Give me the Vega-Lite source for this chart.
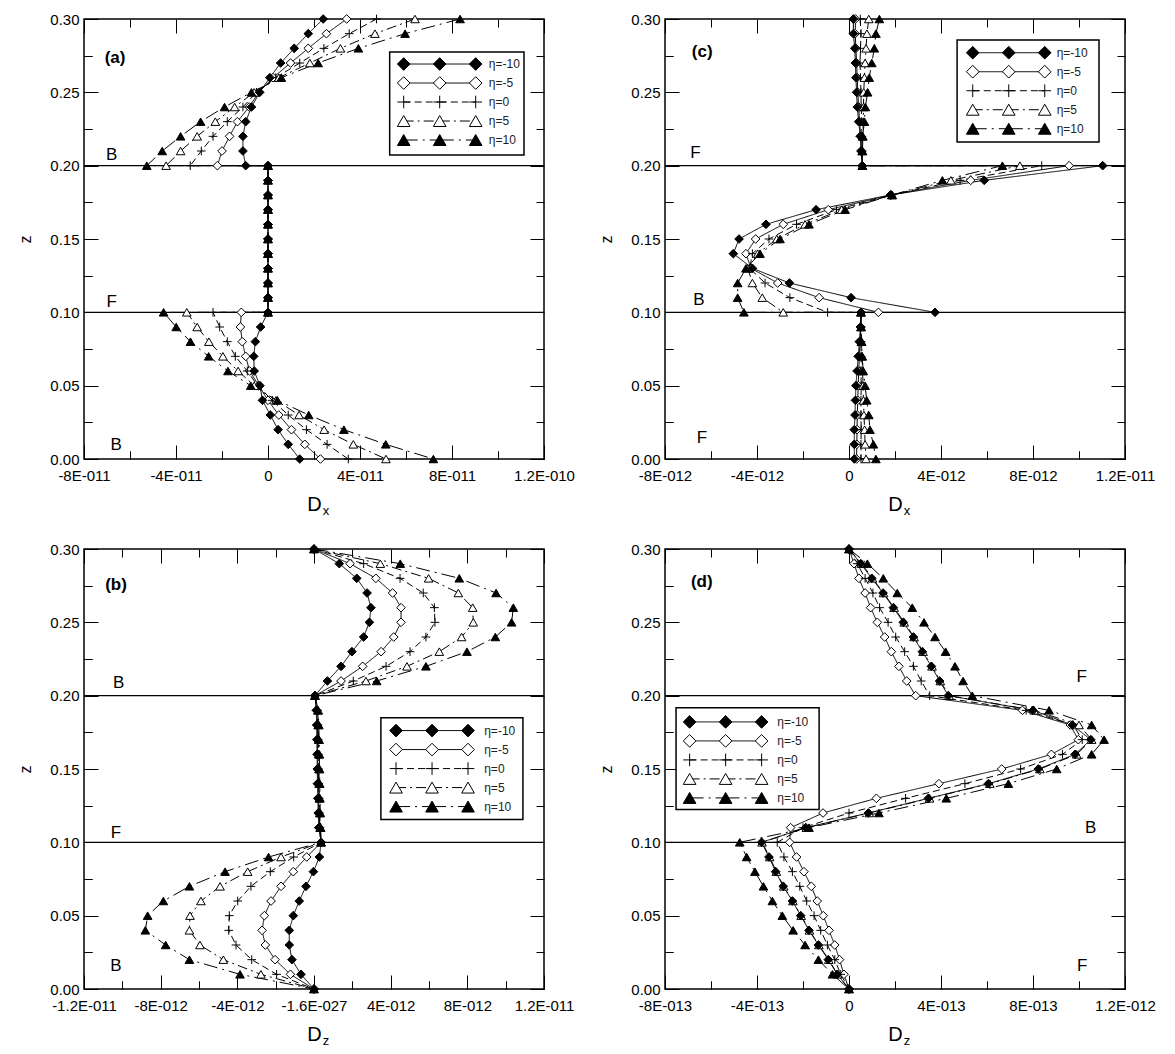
{
"$schema":"https://vega.github.io/schema/vega-lite/v6.json",
"padding":{"left":17,"top":11,"right":5,"bottom":5},
"bounds":"flush",
"columns":2,
"spacing":{"row":90,"column":121},
"resolve":{"scale":{"x":"independent","y":"independent","shape":"independent","fill":"independent","strokeDash":"independent"}},
"config":{
 "font":"Liberation Sans",
 "view":{"stroke":"black","strokeWidth":1.5},
 "axis":{"domain":false,"ticks":true,"tickSize":-8,"tickColor":"black","tickWidth":1,"grid":true,"gridColor":"black","gridWidth":1,"gridOpacity":1,"labelColor":"black","titleColor":"black","labelFont":"Liberation Sans","titleFont":"Liberation Sans","titleFontWeight":"normal","labelFontSize":15,"labelFlush":false,"labelOverlap":false,"labelBound":false},
 "text":{"font":"Liberation Sans","color":"black"}
},
"datasets":{
"a":[
{"s":"η=-5","k":0,"z":0.3,"d":3.42e-11},{"s":"η=-5","k":1,"z":0.29,"d":2.54e-11},{"s":"η=-5","k":2,"z":0.28,"d":1.75e-11},{"s":"η=-5","k":3,"z":0.27,"d":0.98e-11},{"s":"η=-5","k":4,"z":0.26,"d":0.22e-11},{"s":"η=-5","k":5,"z":0.25,"d":-0.40e-11},{"s":"η=-5","k":6,"z":0.24,"d":-0.82e-11},{"s":"η=-5","k":7,"z":0.23,"d":-1.33e-11},{"s":"η=-5","k":8,"z":0.22,"d":-1.67e-11},{"s":"η=-5","k":9,"z":0.21,"d":-2.00e-11},{"s":"η=-5","k":10,"z":0.2,"d":-2.20e-11},
{"s":"η=-5","k":11,"z":0.2,"d":0},{"s":"η=-5","k":12,"z":0.19,"d":0},{"s":"η=-5","k":13,"z":0.18,"d":0},{"s":"η=-5","k":14,"z":0.17,"d":0},{"s":"η=-5","k":15,"z":0.16,"d":0},{"s":"η=-5","k":16,"z":0.15,"d":0},{"s":"η=-5","k":17,"z":0.14,"d":0},{"s":"η=-5","k":18,"z":0.13,"d":0},{"s":"η=-5","k":19,"z":0.12,"d":0},{"s":"η=-5","k":20,"z":0.11,"d":0},{"s":"η=-5","k":21,"z":0.1,"d":0},
{"s":"η=-5","k":22,"z":0.1,"d":-1.16e-11},{"s":"η=-5","k":23,"z":0.09,"d":-1.20e-11},{"s":"η=-5","k":24,"z":0.08,"d":-1.12e-11},{"s":"η=-5","k":25,"z":0.07,"d":-0.97e-11},{"s":"η=-5","k":26,"z":0.06,"d":-0.80e-11},{"s":"η=-5","k":27,"z":0.05,"d":-0.40e-11},{"s":"η=-5","k":28,"z":0.04,"d":0},{"s":"η=-5","k":29,"z":0.03,"d":0.47e-11},{"s":"η=-5","k":30,"z":0.02,"d":1.02e-11},{"s":"η=-5","k":31,"z":0.01,"d":1.60e-11},{"s":"η=-5","k":32,"z":0,"d":2.28e-11},
{"s":"η=0","k":0,"z":0.3,"d":4.72e-11},{"s":"η=0","k":1,"z":0.29,"d":3.53e-11},{"s":"η=0","k":2,"z":0.28,"d":2.43e-11},{"s":"η=0","k":3,"z":0.27,"d":1.38e-11},{"s":"η=0","k":4,"z":0.26,"d":0.34e-11},{"s":"η=0","k":5,"z":0.25,"d":-0.50e-11},{"s":"η=0","k":6,"z":0.24,"d":-1.09e-11},{"s":"η=0","k":7,"z":0.23,"d":-1.77e-11},{"s":"η=0","k":8,"z":0.22,"d":-2.39e-11},{"s":"η=0","k":9,"z":0.21,"d":-2.90e-11},{"s":"η=0","k":10,"z":0.2,"d":-3.38e-11},
{"s":"η=0","k":11,"z":0.2,"d":0},{"s":"η=0","k":12,"z":0.19,"d":0},{"s":"η=0","k":13,"z":0.18,"d":0},{"s":"η=0","k":14,"z":0.17,"d":0},{"s":"η=0","k":15,"z":0.16,"d":0},{"s":"η=0","k":16,"z":0.15,"d":0},{"s":"η=0","k":17,"z":0.14,"d":0},{"s":"η=0","k":18,"z":0.13,"d":0},{"s":"η=0","k":19,"z":0.12,"d":0},{"s":"η=0","k":20,"z":0.11,"d":0},{"s":"η=0","k":21,"z":0.1,"d":0},
{"s":"η=0","k":22,"z":0.1,"d":-2.39e-11},{"s":"η=0","k":23,"z":0.09,"d":-2.10e-11},{"s":"η=0","k":24,"z":0.08,"d":-1.77e-11},{"s":"η=0","k":25,"z":0.07,"d":-1.42e-11},{"s":"η=0","k":26,"z":0.06,"d":-0.90e-11},{"s":"η=0","k":27,"z":0.05,"d":-0.45e-11},{"s":"η=0","k":28,"z":0.04,"d":0.19e-11},{"s":"η=0","k":29,"z":0.03,"d":0.88e-11},{"s":"η=0","k":30,"z":0.02,"d":1.67e-11},{"s":"η=0","k":31,"z":0.01,"d":2.57e-11},{"s":"η=0","k":32,"z":0,"d":3.49e-11},
{"s":"η=5","k":0,"z":0.3,"d":6.39e-11},{"s":"η=5","k":1,"z":0.29,"d":4.65e-11},{"s":"η=5","k":2,"z":0.28,"d":3.15e-11},{"s":"η=5","k":3,"z":0.27,"d":1.82e-11},{"s":"η=5","k":4,"z":0.26,"d":0.47e-11},{"s":"η=5","k":5,"z":0.25,"d":-0.60e-11},{"s":"η=5","k":6,"z":0.24,"d":-1.45e-11},{"s":"η=5","k":7,"z":0.23,"d":-2.29e-11},{"s":"η=5","k":8,"z":0.22,"d":-3.08e-11},{"s":"η=5","k":9,"z":0.21,"d":-3.80e-11},{"s":"η=5","k":10,"z":0.2,"d":-4.43e-11},
{"s":"η=5","k":11,"z":0.2,"d":0},{"s":"η=5","k":12,"z":0.19,"d":0},{"s":"η=5","k":13,"z":0.18,"d":0},{"s":"η=5","k":14,"z":0.17,"d":0},{"s":"η=5","k":15,"z":0.16,"d":0},{"s":"η=5","k":16,"z":0.15,"d":0},{"s":"η=5","k":17,"z":0.14,"d":0},{"s":"η=5","k":18,"z":0.13,"d":0},{"s":"η=5","k":19,"z":0.12,"d":0},{"s":"η=5","k":20,"z":0.11,"d":0},{"s":"η=5","k":21,"z":0.1,"d":0},
{"s":"η=5","k":22,"z":0.1,"d":-3.53e-11},{"s":"η=5","k":23,"z":0.09,"d":-3.08e-11},{"s":"η=5","k":24,"z":0.08,"d":-2.57e-11},{"s":"η=5","k":25,"z":0.07,"d":-1.96e-11},{"s":"η=5","k":26,"z":0.06,"d":-1.30e-11},{"s":"η=5","k":27,"z":0.05,"d":-0.60e-11},{"s":"η=5","k":28,"z":0.04,"d":0.35e-11},{"s":"η=5","k":29,"z":0.03,"d":1.35e-11},{"s":"η=5","k":30,"z":0.02,"d":2.44e-11},{"s":"η=5","k":31,"z":0.01,"d":3.71e-11},{"s":"η=5","k":32,"z":0,"d":5.13e-11},
{"s":"η=-10","k":0,"z":0.3,"d":2.40e-11},{"s":"η=-10","k":1,"z":0.29,"d":1.75e-11},{"s":"η=-10","k":2,"z":0.28,"d":1.14e-11},{"s":"η=-10","k":3,"z":0.27,"d":0.55e-11},{"s":"η=-10","k":4,"z":0.26,"d":0.08e-11},{"s":"η=-10","k":5,"z":0.25,"d":-0.36e-11},{"s":"η=-10","k":6,"z":0.24,"d":-0.72e-11},{"s":"η=-10","k":7,"z":0.23,"d":-0.97e-11},{"s":"η=-10","k":8,"z":0.22,"d":-1.09e-11},{"s":"η=-10","k":9,"z":0.21,"d":-1.09e-11},{"s":"η=-10","k":10,"z":0.2,"d":-0.97e-11},
{"s":"η=-10","k":11,"z":0.2,"d":0},{"s":"η=-10","k":12,"z":0.19,"d":0},{"s":"η=-10","k":13,"z":0.18,"d":0},{"s":"η=-10","k":14,"z":0.17,"d":0},{"s":"η=-10","k":15,"z":0.16,"d":0},{"s":"η=-10","k":16,"z":0.15,"d":0},{"s":"η=-10","k":17,"z":0.14,"d":0},{"s":"η=-10","k":18,"z":0.13,"d":0},{"s":"η=-10","k":19,"z":0.12,"d":0},{"s":"η=-10","k":20,"z":0.11,"d":0},{"s":"η=-10","k":21,"z":0.1,"d":0},
{"s":"η=-10","k":22,"z":0.1,"d":0},{"s":"η=-10","k":23,"z":0.09,"d":-0.32e-11},{"s":"η=-10","k":24,"z":0.08,"d":-0.55e-11},{"s":"η=-10","k":25,"z":0.07,"d":-0.62e-11},{"s":"η=-10","k":26,"z":0.06,"d":-0.60e-11},{"s":"η=-10","k":27,"z":0.05,"d":-0.35e-11},{"s":"η=-10","k":28,"z":0.04,"d":-0.24e-11},{"s":"η=-10","k":29,"z":0.03,"d":0.10e-11},{"s":"η=-10","k":30,"z":0.02,"d":0.44e-11},{"s":"η=-10","k":31,"z":0.01,"d":0.88e-11},{"s":"η=-10","k":32,"z":0,"d":1.38e-11},
{"s":"η=10","k":0,"z":0.3,"d":8.35e-11},{"s":"η=10","k":1,"z":0.29,"d":5.96e-11},{"s":"η=10","k":2,"z":0.28,"d":3.93e-11},{"s":"η=10","k":3,"z":0.27,"d":2.18e-11},{"s":"η=10","k":4,"z":0.26,"d":0.58e-11},{"s":"η=10","k":5,"z":0.25,"d":-0.72e-11},{"s":"η=10","k":6,"z":0.24,"d":-1.89e-11},{"s":"η=10","k":7,"z":0.23,"d":-2.93e-11},{"s":"η=10","k":8,"z":0.22,"d":-3.80e-11},{"s":"η=10","k":9,"z":0.21,"d":-4.60e-11},{"s":"η=10","k":10,"z":0.2,"d":-5.27e-11},
{"s":"η=10","k":11,"z":0.2,"d":0},{"s":"η=10","k":12,"z":0.19,"d":0},{"s":"η=10","k":13,"z":0.18,"d":0},{"s":"η=10","k":14,"z":0.17,"d":0},{"s":"η=10","k":15,"z":0.16,"d":0},{"s":"η=10","k":16,"z":0.15,"d":0},{"s":"η=10","k":17,"z":0.14,"d":0},{"s":"η=10","k":18,"z":0.13,"d":0},{"s":"η=10","k":19,"z":0.12,"d":0},{"s":"η=10","k":20,"z":0.11,"d":0},{"s":"η=10","k":21,"z":0.1,"d":0},
{"s":"η=10","k":22,"z":0.1,"d":-4.54e-11},{"s":"η=10","k":23,"z":0.09,"d":-3.99e-11},{"s":"η=10","k":24,"z":0.08,"d":-3.37e-11},{"s":"η=10","k":25,"z":0.07,"d":-2.58e-11},{"s":"η=10","k":26,"z":0.06,"d":-1.74e-11},{"s":"η=10","k":27,"z":0.05,"d":-0.75e-11},{"s":"η=10","k":28,"z":0.04,"d":0.41e-11},{"s":"η=10","k":29,"z":0.03,"d":1.77e-11},{"s":"η=10","k":30,"z":0.02,"d":3.30e-11},{"s":"η=10","k":31,"z":0.01,"d":5.12e-11},{"s":"η=10","k":32,"z":0,"d":7.19e-11}
],
"b":[
{"s":"η=-5","k":0,"z":0.3,"d":0},{"s":"η=-5","k":1,"z":0.29,"d":1.88e-12},{"s":"η=-5","k":2,"z":0.28,"d":3.23e-12},{"s":"η=-5","k":3,"z":0.27,"d":4.10e-12},{"s":"η=-5","k":4,"z":0.26,"d":4.54e-12},{"s":"η=-5","k":5,"z":0.25,"d":4.54e-12},{"s":"η=-5","k":6,"z":0.24,"d":4.16e-12},{"s":"η=-5","k":7,"z":0.23,"d":3.50e-12},{"s":"η=-5","k":8,"z":0.22,"d":2.54e-12},{"s":"η=-5","k":9,"z":0.21,"d":1.41e-12},{"s":"η=-5","k":10,"z":0.2,"d":0.05e-12},
{"s":"η=-5","k":11,"z":0.19,"d":0.15e-12},{"s":"η=-5","k":12,"z":0.18,"d":0.17e-12},{"s":"η=-5","k":13,"z":0.17,"d":0.18e-12},{"s":"η=-5","k":14,"z":0.16,"d":0.19e-12},{"s":"η=-5","k":15,"z":0.15,"d":0.20e-12},{"s":"η=-5","k":16,"z":0.14,"d":0.21e-12},{"s":"η=-5","k":17,"z":0.13,"d":0.23e-12},{"s":"η=-5","k":18,"z":0.12,"d":0.25e-12},{"s":"η=-5","k":19,"z":0.11,"d":0.28e-12},{"s":"η=-5","k":20,"z":0.1,"d":0.37e-12},
{"s":"η=-5","k":21,"z":0.09,"d":-0.38e-12},{"s":"η=-5","k":22,"z":0.08,"d":-1.08e-12},{"s":"η=-5","k":23,"z":0.07,"d":-1.72e-12},{"s":"η=-5","k":24,"z":0.06,"d":-2.24e-12},{"s":"η=-5","k":25,"z":0.05,"d":-2.59e-12},{"s":"η=-5","k":26,"z":0.04,"d":-2.71e-12},{"s":"η=-5","k":27,"z":0.03,"d":-2.54e-12},{"s":"η=-5","k":28,"z":0.02,"d":-2.03e-12},{"s":"η=-5","k":29,"z":0.01,"d":-1.23e-12},{"s":"η=-5","k":30,"z":0,"d":0},
{"s":"η=0","k":0,"z":0.3,"d":0},{"s":"η=0","k":1,"z":0.29,"d":2.59e-12},{"s":"η=0","k":2,"z":0.28,"d":4.49e-12},{"s":"η=0","k":3,"z":0.27,"d":5.70e-12},{"s":"η=0","k":4,"z":0.26,"d":6.28e-12},{"s":"η=0","k":5,"z":0.25,"d":6.31e-12},{"s":"η=0","k":6,"z":0.24,"d":5.84e-12},{"s":"η=0","k":7,"z":0.23,"d":5.01e-12},{"s":"η=0","k":8,"z":0.22,"d":3.76e-12},{"s":"η=0","k":9,"z":0.21,"d":2.05e-12},{"s":"η=0","k":10,"z":0.2,"d":0.05e-12},
{"s":"η=0","k":11,"z":0.19,"d":0.18e-12},{"s":"η=0","k":12,"z":0.18,"d":0.20e-12},{"s":"η=0","k":13,"z":0.17,"d":0.21e-12},{"s":"η=0","k":14,"z":0.16,"d":0.22e-12},{"s":"η=0","k":15,"z":0.15,"d":0.23e-12},{"s":"η=0","k":16,"z":0.14,"d":0.24e-12},{"s":"η=0","k":17,"z":0.13,"d":0.26e-12},{"s":"η=0","k":18,"z":0.12,"d":0.28e-12},{"s":"η=0","k":19,"z":0.11,"d":0.30e-12},{"s":"η=0","k":20,"z":0.1,"d":0.37e-12},
{"s":"η=0","k":21,"z":0.09,"d":-1.06e-12},{"s":"η=0","k":22,"z":0.08,"d":-2.28e-12},{"s":"η=0","k":23,"z":0.07,"d":-3.29e-12},{"s":"η=0","k":24,"z":0.06,"d":-3.98e-12},{"s":"η=0","k":25,"z":0.05,"d":-4.42e-12},{"s":"η=0","k":26,"z":0.04,"d":-4.45e-12},{"s":"η=0","k":27,"z":0.03,"d":-4.07e-12},{"s":"η=0","k":28,"z":0.02,"d":-3.25e-12},{"s":"η=0","k":29,"z":0.01,"d":-1.95e-12},{"s":"η=0","k":30,"z":0,"d":0},
{"s":"η=5","k":0,"z":0.3,"d":0},{"s":"η=5","k":1,"z":0.29,"d":3.46e-12},{"s":"η=5","k":2,"z":0.28,"d":5.98e-12},{"s":"η=5","k":3,"z":0.27,"d":7.53e-12},{"s":"η=5","k":4,"z":0.26,"d":8.28e-12},{"s":"η=5","k":5,"z":0.25,"d":8.31e-12},{"s":"η=5","k":6,"z":0.24,"d":7.70e-12},{"s":"η=5","k":7,"z":0.23,"d":6.54e-12},{"s":"η=5","k":8,"z":0.22,"d":4.85e-12},{"s":"η=5","k":9,"z":0.21,"d":2.71e-12},{"s":"η=5","k":10,"z":0.2,"d":0.05e-12},
{"s":"η=5","k":11,"z":0.19,"d":0.20e-12},{"s":"η=5","k":12,"z":0.18,"d":0.22e-12},{"s":"η=5","k":13,"z":0.17,"d":0.24e-12},{"s":"η=5","k":14,"z":0.16,"d":0.25e-12},{"s":"η=5","k":15,"z":0.15,"d":0.26e-12},{"s":"η=5","k":16,"z":0.14,"d":0.27e-12},{"s":"η=5","k":17,"z":0.13,"d":0.28e-12},{"s":"η=5","k":18,"z":0.12,"d":0.30e-12},{"s":"η=5","k":19,"z":0.11,"d":0.32e-12},{"s":"η=5","k":20,"z":0.1,"d":0.37e-12},
{"s":"η=5","k":21,"z":0.09,"d":-1.72e-12},{"s":"η=5","k":22,"z":0.08,"d":-3.46e-12},{"s":"η=5","k":23,"z":0.07,"d":-4.90e-12},{"s":"η=5","k":24,"z":0.06,"d":-5.90e-12},{"s":"η=5","k":25,"z":0.05,"d":-6.47e-12},{"s":"η=5","k":26,"z":0.04,"d":-6.50e-12},{"s":"η=5","k":27,"z":0.03,"d":-5.95e-12},{"s":"η=5","k":28,"z":0.02,"d":-4.73e-12},{"s":"η=5","k":29,"z":0.01,"d":-2.77e-12},{"s":"η=5","k":30,"z":0,"d":0},
{"s":"η=-10","k":0,"z":0.3,"d":0},{"s":"η=-10","k":1,"z":0.29,"d":1.32e-12},{"s":"η=-10","k":2,"z":0.28,"d":2.23e-12},{"s":"η=-10","k":3,"z":0.27,"d":2.77e-12},{"s":"η=-10","k":4,"z":0.26,"d":2.97e-12},{"s":"η=-10","k":5,"z":0.25,"d":2.89e-12},{"s":"η=-10","k":6,"z":0.24,"d":2.59e-12},{"s":"η=-10","k":7,"z":0.23,"d":1.98e-12},{"s":"η=-10","k":8,"z":0.22,"d":1.41e-12},{"s":"η=-10","k":9,"z":0.21,"d":0.70e-12},{"s":"η=-10","k":10,"z":0.2,"d":0.05e-12},
{"s":"η=-10","k":11,"z":0.19,"d":0.12e-12},{"s":"η=-10","k":12,"z":0.18,"d":0.14e-12},{"s":"η=-10","k":13,"z":0.17,"d":0.15e-12},{"s":"η=-10","k":14,"z":0.16,"d":0.16e-12},{"s":"η=-10","k":15,"z":0.15,"d":0.17e-12},{"s":"η=-10","k":16,"z":0.14,"d":0.18e-12},{"s":"η=-10","k":17,"z":0.13,"d":0.20e-12},{"s":"η=-10","k":18,"z":0.12,"d":0.22e-12},{"s":"η=-10","k":19,"z":0.11,"d":0.25e-12},{"s":"η=-10","k":20,"z":0.1,"d":0.37e-12},
{"s":"η=-10","k":21,"z":0.09,"d":0.28e-12},{"s":"η=-10","k":22,"z":0.08,"d":-0.03e-12},{"s":"η=-10","k":23,"z":0.07,"d":-0.42e-12},{"s":"η=-10","k":24,"z":0.06,"d":-0.77e-12},{"s":"η=-10","k":25,"z":0.05,"d":-1.08e-12},{"s":"η=-10","k":26,"z":0.04,"d":-1.29e-12},{"s":"η=-10","k":27,"z":0.03,"d":-1.29e-12},{"s":"η=-10","k":28,"z":0.02,"d":-1.15e-12},{"s":"η=-10","k":29,"z":0.01,"d":-0.68e-12},{"s":"η=-10","k":30,"z":0,"d":0},
{"s":"η=10","k":0,"z":0.3,"d":0},{"s":"η=10","k":1,"z":0.29,"d":4.50e-12},{"s":"η=10","k":2,"z":0.28,"d":7.58e-12},{"s":"η=10","k":3,"z":0.27,"d":9.50e-12},{"s":"η=10","k":4,"z":0.26,"d":10.40e-12},{"s":"η=10","k":5,"z":0.25,"d":10.31e-12},{"s":"η=10","k":6,"z":0.24,"d":9.46e-12},{"s":"η=10","k":7,"z":0.23,"d":7.98e-12},{"s":"η=10","k":8,"z":0.22,"d":5.84e-12},{"s":"η=10","k":9,"z":0.21,"d":3.27e-12},{"s":"η=10","k":10,"z":0.2,"d":0.05e-12},
{"s":"η=10","k":11,"z":0.19,"d":0.22e-12},{"s":"η=10","k":12,"z":0.18,"d":0.25e-12},{"s":"η=10","k":13,"z":0.17,"d":0.27e-12},{"s":"η=10","k":14,"z":0.16,"d":0.28e-12},{"s":"η=10","k":15,"z":0.15,"d":0.29e-12},{"s":"η=10","k":16,"z":0.14,"d":0.30e-12},{"s":"η=10","k":17,"z":0.13,"d":0.31e-12},{"s":"η=10","k":18,"z":0.12,"d":0.33e-12},{"s":"η=10","k":19,"z":0.11,"d":0.35e-12},{"s":"η=10","k":20,"z":0.1,"d":0.37e-12},
{"s":"η=10","k":21,"z":0.09,"d":-2.37e-12},{"s":"η=10","k":22,"z":0.08,"d":-4.64e-12},{"s":"η=10","k":23,"z":0.07,"d":-6.50e-12},{"s":"η=10","k":24,"z":0.06,"d":-7.86e-12},{"s":"η=10","k":25,"z":0.05,"d":-8.68e-12},{"s":"η=10","k":26,"z":0.04,"d":-8.80e-12},{"s":"η=10","k":27,"z":0.03,"d":-7.74e-12},{"s":"η=10","k":28,"z":0.02,"d":-6.50e-12},{"s":"η=10","k":29,"z":0.01,"d":-3.86e-12},{"s":"η=10","k":30,"z":0,"d":0}
],
"c":[
{"s":"η=-5","k":0,"z":0.3,"d":0.28e-12},{"s":"η=-5","k":1,"z":0.29,"d":0.27e-12},{"s":"η=-5","k":2,"z":0.28,"d":0.30e-12},{"s":"η=-5","k":3,"z":0.27,"d":0.33e-12},{"s":"η=-5","k":4,"z":0.26,"d":0.36e-12},{"s":"η=-5","k":5,"z":0.25,"d":0.38e-12},{"s":"η=-5","k":6,"z":0.24,"d":0.42e-12},{"s":"η=-5","k":7,"z":0.23,"d":0.46e-12},{"s":"η=-5","k":8,"z":0.22,"d":0.51e-12},{"s":"η=-5","k":9,"z":0.21,"d":0.54e-12},{"s":"η=-5","k":10,"z":0.2,"d":0.58e-12},
{"s":"η=-5","k":11,"z":0.2,"d":9.57e-12},{"s":"η=-5","k":12,"z":0.19,"d":5.29e-12},{"s":"η=-5","k":13,"z":0.18,"d":1.82e-12},{"s":"η=-5","k":14,"z":0.17,"d":-0.90e-12},{"s":"η=-5","k":15,"z":0.16,"d":-2.86e-12},{"s":"η=-5","k":16,"z":0.15,"d":-4.06e-12},{"s":"η=-5","k":17,"z":0.14,"d":-4.48e-12},{"s":"η=-5","k":18,"z":0.13,"d":-4.26e-12},{"s":"η=-5","k":19,"z":0.12,"d":-3.10e-12},{"s":"η=-5","k":20,"z":0.11,"d":-1.30e-12},{"s":"η=-5","k":21,"z":0.1,"d":1.28e-12},
{"s":"η=-5","k":22,"z":0.1,"d":0.52e-12},{"s":"η=-5","k":23,"z":0.09,"d":0.51e-12},{"s":"η=-5","k":24,"z":0.08,"d":0.48e-12},{"s":"η=-5","k":25,"z":0.07,"d":0.45e-12},{"s":"η=-5","k":26,"z":0.06,"d":0.42e-12},{"s":"η=-5","k":27,"z":0.05,"d":0.40e-12},{"s":"η=-5","k":28,"z":0.04,"d":0.38e-12},{"s":"η=-5","k":29,"z":0.03,"d":0.36e-12},{"s":"η=-5","k":30,"z":0.02,"d":0.35e-12},{"s":"η=-5","k":31,"z":0.01,"d":0.34e-12},{"s":"η=-5","k":32,"z":0,"d":0.33e-12},
{"s":"η=0","k":0,"z":0.3,"d":0.49e-12},{"s":"η=0","k":1,"z":0.29,"d":0.52e-12},{"s":"η=0","k":2,"z":0.28,"d":0.50e-12},{"s":"η=0","k":3,"z":0.27,"d":0.48e-12},{"s":"η=0","k":4,"z":0.26,"d":0.50e-12},{"s":"η=0","k":5,"z":0.25,"d":0.52e-12},{"s":"η=0","k":6,"z":0.24,"d":0.53e-12},{"s":"η=0","k":7,"z":0.23,"d":0.55e-12},{"s":"η=0","k":8,"z":0.22,"d":0.56e-12},{"s":"η=0","k":9,"z":0.21,"d":0.57e-12},{"s":"η=0","k":10,"z":0.2,"d":0.58e-12},
{"s":"η=0","k":11,"z":0.2,"d":8.38e-12},{"s":"η=0","k":12,"z":0.19,"d":4.83e-12},{"s":"η=0","k":13,"z":0.18,"d":1.84e-12},{"s":"η=0","k":14,"z":0.17,"d":-0.54e-12},{"s":"η=0","k":15,"z":0.16,"d":-2.28e-12},{"s":"η=0","k":16,"z":0.15,"d":-3.48e-12},{"s":"η=0","k":17,"z":0.14,"d":-4.20e-12},{"s":"η=0","k":18,"z":0.13,"d":-4.32e-12},{"s":"η=0","k":19,"z":0.12,"d":-3.65e-12},{"s":"η=0","k":20,"z":0.11,"d":-2.57e-12},{"s":"η=0","k":21,"z":0.1,"d":-0.93e-12},
{"s":"η=0","k":22,"z":0.1,"d":0.52e-12},{"s":"η=0","k":23,"z":0.09,"d":0.53e-12},{"s":"η=0","k":24,"z":0.08,"d":0.52e-12},{"s":"η=0","k":25,"z":0.07,"d":0.53e-12},{"s":"η=0","k":26,"z":0.06,"d":0.52e-12},{"s":"η=0","k":27,"z":0.05,"d":0.53e-12},{"s":"η=0","k":28,"z":0.04,"d":0.52e-12},{"s":"η=0","k":29,"z":0.03,"d":0.52e-12},{"s":"η=0","k":30,"z":0.02,"d":0.53e-12},{"s":"η=0","k":31,"z":0.01,"d":0.52e-12},{"s":"η=0","k":32,"z":0,"d":0.52e-12},
{"s":"η=5","k":0,"z":0.3,"d":0.86e-12},{"s":"η=5","k":1,"z":0.29,"d":0.78e-12},{"s":"η=5","k":2,"z":0.28,"d":0.74e-12},{"s":"η=5","k":3,"z":0.27,"d":0.70e-12},{"s":"η=5","k":4,"z":0.26,"d":0.67e-12},{"s":"η=5","k":5,"z":0.25,"d":0.64e-12},{"s":"η=5","k":6,"z":0.24,"d":0.63e-12},{"s":"η=5","k":7,"z":0.23,"d":0.62e-12},{"s":"η=5","k":8,"z":0.22,"d":0.60e-12},{"s":"η=5","k":9,"z":0.21,"d":0.59e-12},{"s":"η=5","k":10,"z":0.2,"d":0.58e-12},
{"s":"η=5","k":11,"z":0.2,"d":7.43e-12},{"s":"η=5","k":12,"z":0.19,"d":4.43e-12},{"s":"η=5","k":13,"z":0.18,"d":1.86e-12},{"s":"η=5","k":14,"z":0.17,"d":-0.32e-12},{"s":"η=5","k":15,"z":0.16,"d":-1.91e-12},{"s":"η=5","k":16,"z":0.15,"d":-3.14e-12},{"s":"η=5","k":17,"z":0.14,"d":-3.97e-12},{"s":"η=5","k":18,"z":0.13,"d":-4.40e-12},{"s":"η=5","k":19,"z":0.12,"d":-4.20e-12},{"s":"η=5","k":20,"z":0.11,"d":-3.77e-12},{"s":"η=5","k":21,"z":0.1,"d":-2.86e-12},
{"s":"η=5","k":22,"z":0.1,"d":0.52e-12},{"s":"η=5","k":23,"z":0.09,"d":0.53e-12},{"s":"η=5","k":24,"z":0.08,"d":0.55e-12},{"s":"η=5","k":25,"z":0.07,"d":0.57e-12},{"s":"η=5","k":26,"z":0.06,"d":0.59e-12},{"s":"η=5","k":27,"z":0.05,"d":0.61e-12},{"s":"η=5","k":28,"z":0.04,"d":0.63e-12},{"s":"η=5","k":29,"z":0.03,"d":0.65e-12},{"s":"η=5","k":30,"z":0.02,"d":0.68e-12},{"s":"η=5","k":31,"z":0.01,"d":0.70e-12},{"s":"η=5","k":32,"z":0,"d":0.74e-12},
{"s":"η=-10","k":0,"z":0.3,"d":0.19e-12},{"s":"η=-10","k":1,"z":0.29,"d":0.19e-12},{"s":"η=-10","k":2,"z":0.28,"d":0.25e-12},{"s":"η=-10","k":3,"z":0.27,"d":0.28e-12},{"s":"η=-10","k":4,"z":0.26,"d":0.30e-12},{"s":"η=-10","k":5,"z":0.25,"d":0.33e-12},{"s":"η=-10","k":6,"z":0.24,"d":0.36e-12},{"s":"η=-10","k":7,"z":0.23,"d":0.42e-12},{"s":"η=-10","k":8,"z":0.22,"d":0.49e-12},{"s":"η=-10","k":9,"z":0.21,"d":0.52e-12},{"s":"η=-10","k":10,"z":0.2,"d":0.58e-12},
{"s":"η=-10","k":11,"z":0.2,"d":11.03e-12},{"s":"η=-10","k":12,"z":0.19,"d":5.88e-12},{"s":"η=-10","k":13,"z":0.18,"d":1.80e-12},{"s":"η=-10","k":14,"z":0.17,"d":-1.43e-12},{"s":"η=-10","k":15,"z":0.16,"d":-3.61e-12},{"s":"η=-10","k":16,"z":0.15,"d":-4.78e-12},{"s":"η=-10","k":17,"z":0.14,"d":-5.03e-12},{"s":"η=-10","k":18,"z":0.13,"d":-4.20e-12},{"s":"η=-10","k":19,"z":0.12,"d":-2.59e-12},{"s":"η=-10","k":20,"z":0.11,"d":0.09e-12},{"s":"η=-10","k":21,"z":0.1,"d":3.74e-12},
{"s":"η=-10","k":22,"z":0.1,"d":0.52e-12},{"s":"η=-10","k":23,"z":0.09,"d":0.50e-12},{"s":"η=-10","k":24,"z":0.08,"d":0.45e-12},{"s":"η=-10","k":25,"z":0.07,"d":0.40e-12},{"s":"η=-10","k":26,"z":0.06,"d":0.35e-12},{"s":"η=-10","k":27,"z":0.05,"d":0.30e-12},{"s":"η=-10","k":28,"z":0.04,"d":0.28e-12},{"s":"η=-10","k":29,"z":0.03,"d":0.26e-12},{"s":"η=-10","k":30,"z":0.02,"d":0.23e-12},{"s":"η=-10","k":31,"z":0.01,"d":0.23e-12},{"s":"η=-10","k":32,"z":0,"d":0.23e-12},
{"s":"η=10","k":0,"z":0.3,"d":1.32e-12},{"s":"η=10","k":1,"z":0.29,"d":1.17e-12},{"s":"η=10","k":2,"z":0.28,"d":1.10e-12},{"s":"η=10","k":3,"z":0.27,"d":0.99e-12},{"s":"η=10","k":4,"z":0.26,"d":0.88e-12},{"s":"η=10","k":5,"z":0.25,"d":0.81e-12},{"s":"η=10","k":6,"z":0.24,"d":0.71e-12},{"s":"η=10","k":7,"z":0.23,"d":0.67e-12},{"s":"η=10","k":8,"z":0.22,"d":0.59e-12},{"s":"η=10","k":9,"z":0.21,"d":0.57e-12},{"s":"η=10","k":10,"z":0.2,"d":0.58e-12},
{"s":"η=10","k":11,"z":0.2,"d":6.67e-12},{"s":"η=10","k":12,"z":0.19,"d":4.06e-12},{"s":"η=10","k":13,"z":0.18,"d":1.88e-12},{"s":"η=10","k":14,"z":0.17,"d":-0.17e-12},{"s":"η=10","k":15,"z":0.16,"d":-1.74e-12},{"s":"η=10","k":16,"z":0.15,"d":-3.00e-12},{"s":"η=10","k":17,"z":0.14,"d":-3.87e-12},{"s":"η=10","k":18,"z":0.13,"d":-4.48e-12},{"s":"η=10","k":19,"z":0.12,"d":-4.84e-12},{"s":"η=10","k":20,"z":0.11,"d":-4.84e-12},{"s":"η=10","k":21,"z":0.1,"d":-4.57e-12},
{"s":"η=10","k":22,"z":0.1,"d":0.52e-12},{"s":"η=10","k":23,"z":0.09,"d":0.52e-12},{"s":"η=10","k":24,"z":0.08,"d":0.54e-12},{"s":"η=10","k":25,"z":0.07,"d":0.57e-12},{"s":"η=10","k":26,"z":0.06,"d":0.62e-12},{"s":"η=10","k":27,"z":0.05,"d":0.70e-12},{"s":"η=10","k":28,"z":0.04,"d":0.77e-12},{"s":"η=10","k":29,"z":0.03,"d":0.86e-12},{"s":"η=10","k":30,"z":0.02,"d":0.91e-12},{"s":"η=10","k":31,"z":0.01,"d":1.06e-12},{"s":"η=10","k":32,"z":0,"d":1.17e-12}
],
"d":[
{"s":"η=-5","k":0,"z":0.3,"d":0},{"s":"η=-5","k":1,"z":0.29,"d":0.22e-13},{"s":"η=-5","k":2,"z":0.28,"d":0.43e-13},{"s":"η=-5","k":3,"z":0.27,"d":0.70e-13},{"s":"η=-5","k":4,"z":0.26,"d":0.94e-13},{"s":"η=-5","k":5,"z":0.25,"d":1.23e-13},{"s":"η=-5","k":6,"z":0.24,"d":1.55e-13},{"s":"η=-5","k":7,"z":0.23,"d":1.84e-13},{"s":"η=-5","k":8,"z":0.22,"d":2.17e-13},{"s":"η=-5","k":9,"z":0.21,"d":2.51e-13},{"s":"η=-5","k":10,"z":0.2,"d":2.90e-13},
{"s":"η=-5","k":11,"z":0.19,"d":7.54e-13},{"s":"η=-5","k":12,"z":0.18,"d":9.62e-13},{"s":"η=-5","k":13,"z":0.17,"d":9.97e-13},{"s":"η=-5","k":14,"z":0.16,"d":8.80e-13},{"s":"η=-5","k":15,"z":0.15,"d":6.64e-13},{"s":"η=-5","k":16,"z":0.14,"d":3.91e-13},{"s":"η=-5","k":17,"z":0.13,"d":1.19e-13},{"s":"η=-5","k":18,"z":0.12,"d":-1.13e-13},{"s":"η=-5","k":19,"z":0.11,"d":-2.54e-13},{"s":"η=-5","k":20,"z":0.1,"d":-2.58e-13},
{"s":"η=-5","k":21,"z":0.09,"d":-2.28e-13},{"s":"η=-5","k":22,"z":0.08,"d":-1.96e-13},{"s":"η=-5","k":23,"z":0.07,"d":-1.64e-13},{"s":"η=-5","k":24,"z":0.06,"d":-1.38e-13},{"s":"η=-5","k":25,"z":0.05,"d":-1.12e-13},{"s":"η=-5","k":26,"z":0.04,"d":-0.87e-13},{"s":"η=-5","k":27,"z":0.03,"d":-0.62e-13},{"s":"η=-5","k":28,"z":0.02,"d":-0.41e-13},{"s":"η=-5","k":29,"z":0.01,"d":-0.22e-13},{"s":"η=-5","k":30,"z":0,"d":0},
{"s":"η=0","k":0,"z":0.3,"d":0},{"s":"η=0","k":1,"z":0.29,"d":0.36e-13},{"s":"η=0","k":2,"z":0.28,"d":0.70e-13},{"s":"η=0","k":3,"z":0.27,"d":1.04e-13},{"s":"η=0","k":4,"z":0.26,"d":1.33e-13},{"s":"η=0","k":5,"z":0.25,"d":1.70e-13},{"s":"η=0","k":6,"z":0.24,"d":2.03e-13},{"s":"η=0","k":7,"z":0.23,"d":2.42e-13},{"s":"η=0","k":8,"z":0.22,"d":2.80e-13},{"s":"η=0","k":9,"z":0.21,"d":3.14e-13},{"s":"η=0","k":10,"z":0.2,"d":3.51e-13},
{"s":"η=0","k":11,"z":0.19,"d":7.70e-13},{"s":"η=0","k":12,"z":0.18,"d":9.75e-13},{"s":"η=0","k":13,"z":0.17,"d":10.14e-13},{"s":"η=0","k":14,"z":0.16,"d":9.28e-13},{"s":"η=0","k":15,"z":0.15,"d":7.46e-13},{"s":"η=0","k":16,"z":0.14,"d":5.04e-13},{"s":"η=0","k":17,"z":0.13,"d":2.46e-13},{"s":"η=0","k":18,"z":0.12,"d":0},{"s":"η=0","k":19,"z":0.11,"d":-2.00e-13},{"s":"η=0","k":20,"z":0.1,"d":-3.12e-13},
{"s":"η=0","k":21,"z":0.09,"d":-2.83e-13},{"s":"η=0","k":22,"z":0.08,"d":-2.46e-13},{"s":"η=0","k":23,"z":0.07,"d":-2.14e-13},{"s":"η=0","k":24,"z":0.06,"d":-1.84e-13},{"s":"η=0","k":25,"z":0.05,"d":-1.52e-13},{"s":"η=0","k":26,"z":0.04,"d":-1.23e-13},{"s":"η=0","k":27,"z":0.03,"d":-0.94e-13},{"s":"η=0","k":28,"z":0.02,"d":-0.62e-13},{"s":"η=0","k":29,"z":0.01,"d":-0.36e-13},{"s":"η=0","k":30,"z":0,"d":0},
{"s":"η=5","k":0,"z":0.3,"d":0},{"s":"η=5","k":1,"z":0.29,"d":0.55e-13},{"s":"η=5","k":2,"z":0.28,"d":1.02e-13},{"s":"η=5","k":3,"z":0.27,"d":1.50e-13},{"s":"η=5","k":4,"z":0.26,"d":1.96e-13},{"s":"η=5","k":5,"z":0.25,"d":2.40e-13},{"s":"η=5","k":6,"z":0.24,"d":2.83e-13},{"s":"η=5","k":7,"z":0.23,"d":3.22e-13},{"s":"η=5","k":8,"z":0.22,"d":3.61e-13},{"s":"η=5","k":9,"z":0.21,"d":3.97e-13},{"s":"η=5","k":10,"z":0.2,"d":4.35e-13},
{"s":"η=5","k":11,"z":0.19,"d":8.05e-13},{"s":"η=5","k":12,"z":0.18,"d":10.00e-13},{"s":"η=5","k":13,"z":0.17,"d":10.55e-13},{"s":"η=5","k":14,"z":0.16,"d":9.90e-13},{"s":"η=5","k":15,"z":0.15,"d":8.30e-13},{"s":"η=5","k":16,"z":0.14,"d":6.12e-13},{"s":"η=5","k":17,"z":0.13,"d":3.50e-13},{"s":"η=5","k":18,"z":0.12,"d":0.88e-13},{"s":"η=5","k":19,"z":0.11,"d":-1.85e-13},{"s":"η=5","k":20,"z":0.1,"d":-3.78e-13},
{"s":"η=5","k":21,"z":0.09,"d":-3.45e-13},{"s":"η=5","k":22,"z":0.08,"d":-3.16e-13},{"s":"η=5","k":23,"z":0.07,"d":-2.84e-13},{"s":"η=5","k":24,"z":0.06,"d":-2.44e-13},{"s":"η=5","k":25,"z":0.05,"d":-2.08e-13},{"s":"η=5","k":26,"z":0.04,"d":-1.72e-13},{"s":"η=5","k":27,"z":0.03,"d":-1.31e-13},{"s":"η=5","k":28,"z":0.02,"d":-0.88e-13},{"s":"η=5","k":29,"z":0.01,"d":-0.50e-13},{"s":"η=5","k":30,"z":0,"d":0},
{"s":"η=-10","k":0,"z":0.3,"d":0},{"s":"η=-10","k":1,"z":0.29,"d":0.51e-13},{"s":"η=-10","k":2,"z":0.28,"d":0.99e-13},{"s":"η=-10","k":3,"z":0.27,"d":1.48e-13},{"s":"η=-10","k":4,"z":0.26,"d":1.93e-13},{"s":"η=-10","k":5,"z":0.25,"d":2.36e-13},{"s":"η=-10","k":6,"z":0.24,"d":2.80e-13},{"s":"η=-10","k":7,"z":0.23,"d":3.19e-13},{"s":"η=-10","k":8,"z":0.22,"d":3.58e-13},{"s":"η=-10","k":9,"z":0.21,"d":3.94e-13},{"s":"η=-10","k":10,"z":0.2,"d":4.32e-13},
{"s":"η=-10","k":11,"z":0.19,"d":8.00e-13},{"s":"η=-10","k":12,"z":0.18,"d":9.71e-13},{"s":"η=-10","k":13,"z":0.17,"d":10.51e-13},{"s":"η=-10","k":14,"z":0.16,"d":9.83e-13},{"s":"η=-10","k":15,"z":0.15,"d":8.23e-13},{"s":"η=-10","k":16,"z":0.14,"d":6.06e-13},{"s":"η=-10","k":17,"z":0.13,"d":3.45e-13},{"s":"η=-10","k":18,"z":0.12,"d":0.84e-13},{"s":"η=-10","k":19,"z":0.11,"d":-1.88e-13},{"s":"η=-10","k":20,"z":0.1,"d":-3.80e-13},
{"s":"η=-10","k":21,"z":0.09,"d":-3.48e-13},{"s":"η=-10","k":22,"z":0.08,"d":-3.19e-13},{"s":"η=-10","k":23,"z":0.07,"d":-2.86e-13},{"s":"η=-10","k":24,"z":0.06,"d":-2.46e-13},{"s":"η=-10","k":25,"z":0.05,"d":-2.10e-13},{"s":"η=-10","k":26,"z":0.04,"d":-1.74e-13},{"s":"η=-10","k":27,"z":0.03,"d":-1.33e-13},{"s":"η=-10","k":28,"z":0.02,"d":-0.90e-13},{"s":"η=-10","k":29,"z":0.01,"d":-0.51e-13},{"s":"η=-10","k":30,"z":0,"d":0},
{"s":"η=10","k":0,"z":0.3,"d":0},{"s":"η=10","k":1,"z":0.29,"d":0.80e-13},{"s":"η=10","k":2,"z":0.28,"d":1.49e-13},{"s":"η=10","k":3,"z":0.27,"d":2.10e-13},{"s":"η=10","k":4,"z":0.26,"d":2.75e-13},{"s":"η=10","k":5,"z":0.25,"d":3.26e-13},{"s":"η=10","k":6,"z":0.24,"d":3.74e-13},{"s":"η=10","k":7,"z":0.23,"d":4.20e-13},{"s":"η=10","k":8,"z":0.22,"d":4.61e-13},{"s":"η=10","k":9,"z":0.21,"d":4.96e-13},{"s":"η=10","k":10,"z":0.2,"d":5.36e-13},
{"s":"η=10","k":11,"z":0.19,"d":8.70e-13},{"s":"η=10","k":12,"z":0.18,"d":10.55e-13},{"s":"η=10","k":13,"z":0.17,"d":11.09e-13},{"s":"η=10","k":14,"z":0.16,"d":10.55e-13},{"s":"η=10","k":15,"z":0.15,"d":9.03e-13},{"s":"η=10","k":16,"z":0.14,"d":6.93e-13},{"s":"η=10","k":17,"z":0.13,"d":4.23e-13},{"s":"η=10","k":18,"z":0.12,"d":1.30e-13},{"s":"η=10","k":19,"z":0.11,"d":-1.74e-13},{"s":"η=10","k":20,"z":0.1,"d":-4.75e-13},
{"s":"η=10","k":21,"z":0.09,"d":-4.45e-13},{"s":"η=10","k":22,"z":0.08,"d":-4.09e-13},{"s":"η=10","k":23,"z":0.07,"d":-3.72e-13},{"s":"η=10","k":24,"z":0.06,"d":-3.33e-13},{"s":"η=10","k":25,"z":0.05,"d":-2.90e-13},{"s":"η=10","k":26,"z":0.04,"d":-2.43e-13},{"s":"η=10","k":27,"z":0.03,"d":-1.91e-13},{"s":"η=10","k":28,"z":0.02,"d":-1.33e-13},{"s":"η=10","k":29,"z":0.01,"d":-0.72e-13},{"s":"η=10","k":30,"z":0,"d":0}
],
"legendrows":[{"s":"η=-10","i":0},{"s":"η=-5","i":1},{"s":"η=0","i":2},{"s":"η=5","i":3},{"s":"η=10","i":4}],
"legendsym":[{"s":"η=-10","i":0,"j":0},{"s":"η=-10","i":0,"j":1},{"s":"η=-10","i":0,"j":2},{"s":"η=-5","i":1,"j":0},{"s":"η=-5","i":1,"j":1},{"s":"η=-5","i":1,"j":2},{"s":"η=0","i":2,"j":0},{"s":"η=0","i":2,"j":1},{"s":"η=0","i":2,"j":2},{"s":"η=5","i":3,"j":0},{"s":"η=5","i":3,"j":1},{"s":"η=5","i":3,"j":2},{"s":"η=10","i":4,"j":0},{"s":"η=10","i":4,"j":1},{"s":"η=10","i":4,"j":2}]
},
"concat":[
{
 "width":460,"height":440,
 "resolve":{"axis":{"x":"independent","y":"independent"}},
 "layer":[
  {"data":{"values":[{"z":0.1},{"z":0.2}]},"mark":{"type":"rule","color":"black","strokeWidth":1.2},"encoding":{"y":{"field":"z","type":"quantitative","scale":{"domain":[0,0.3],"nice":false,"zero":false},"axis":null}}},
  {"data":{"name":"a"},"mark":{"type":"line","color":"black","strokeWidth":1},"encoding":{
    "x":{"field":"d","type":"quantitative","scale":{"domain":[-8e-11,1.2e-10],"nice":false,"zero":false},"axis":{"orient":"bottom","values":[-8e-11,-6e-11,-4e-11,-2e-11,0,2e-11,4e-11,6e-11,8e-11,1e-10,1.2e-10],"labelExpr":"['-8E-011','','-4E-011','','0','','4E-011','','8E-011','','1.2E-010'][round(datum.value*1e11/2)+4]","grid":true,"gridDash":{"condition":{"test":"round(datum.value*1e11/2)%2==0","value":[14,412,14]},"value":[8,424,8]},"labelPadding":17,"title":"D","titleFontSize":20,"titlePadding":11}},
    "y":{"field":"z","type":"quantitative","scale":{"domain":[0,0.3],"nice":false,"zero":false},"axis":{"orient":"left","values":[0,0.025,0.05,0.075,0.1,0.125,0.15,0.175,0.2,0.225,0.25,0.275,0.3],"labelExpr":"round(datum.value*40)%2==0 ? format(datum.value,'.2f') : ''","grid":true,"gridDash":{"condition":{"test":"round(datum.value*40)%2==0","value":[14,432,14]},"value":[8,444,8]},"labelPadding":13,"title":"z","titleFontSize":16,"titlePadding":16}},
    "strokeDash":{"field":"s","type":"nominal","scale":{"domain":["η=-10","η=-5","η=0","η=5","η=10"],"range":[[1,0],[1,0],[7,4],[10,4,2,4],[14,5,2,5]]},"legend":null},
    "order":{"field":"k","type":"quantitative"}}},
  {"data":{"name":"a"},"transform":[{"filter":"datum.s=='η=-5'"}],"mark":{"type":"point","shape":"diamond","filled":true,"fill":"white","stroke":"black","strokeWidth":1,"size":75,"opacity":1},"encoding":{"x":{"field":"d","type":"quantitative","axis":null},"y":{"field":"z","type":"quantitative","axis":null}}},
  {"data":{"name":"a"},"transform":[{"filter":"datum.s=='η=0'"}],"mark":{"type":"point","shape":"M-1,0H1M0,-1V1","filled":false,"stroke":"black","strokeWidth":1,"size":75,"opacity":1},"encoding":{"x":{"field":"d","type":"quantitative","axis":null},"y":{"field":"z","type":"quantitative","axis":null}}},
  {"data":{"name":"a"},"transform":[{"filter":"datum.s=='η=5'"}],"mark":{"type":"point","shape":"triangle-up","filled":true,"fill":"white","stroke":"black","strokeWidth":1,"size":75,"opacity":1},"encoding":{"x":{"field":"d","type":"quantitative","axis":null},"y":{"field":"z","type":"quantitative","axis":null}}},
  {"data":{"name":"a"},"transform":[{"filter":"datum.s=='η=-10'"}],"mark":{"type":"point","shape":"diamond","filled":true,"fill":"black","stroke":"black","strokeWidth":1,"size":75,"opacity":1},"encoding":{"x":{"field":"d","type":"quantitative","axis":null},"y":{"field":"z","type":"quantitative","axis":null}}},
  {"data":{"name":"a"},"transform":[{"filter":"datum.s=='η=10'"}],"mark":{"type":"point","shape":"triangle-up","filled":true,"fill":"black","stroke":"black","strokeWidth":1,"size":75,"opacity":1},"encoding":{"x":{"field":"d","type":"quantitative","axis":null},"y":{"field":"z","type":"quantitative","axis":null}}},
  {"data":{"values":[{"part":"legend box"}]},"mark":{"type":"rect","fill":"white","stroke":"black","strokeWidth":1.5},"encoding":{"x":{"datum":5.29e-11,"type":"quantitative","axis":null},"x2":{"datum":1.113e-10},"y":{"datum":0.2775,"type":"quantitative","axis":null},"y2":{"datum":0.2073}}},
  {"data":{"name":"legendrows"},"mark":{"type":"rule","color":"black","strokeWidth":1},"encoding":{"x":{"datum":5.90e-11,"type":"quantitative","axis":null},"x2":{"datum":7.47e-11},"y":{"datum":0.2693,"type":"quantitative","axis":null},"yOffset":{"field":"i","type":"quantitative","scale":{"domain":[0,4],"range":[0,76]}},"strokeDash":{"field":"s","type":"nominal","legend":null}}},
  {"data":{"name":"legendrows"},"mark":{"type":"rule","color":"black","strokeWidth":1},"encoding":{"x":{"datum":7.47e-11,"type":"quantitative","axis":null},"x2":{"datum":9.03e-11},"y":{"datum":0.2693,"type":"quantitative","axis":null},"yOffset":{"field":"i","type":"quantitative","scale":{"domain":[0,4],"range":[0,76]}},"strokeDash":{"field":"s","type":"nominal","legend":null}}},
  {"data":{"name":"legendsym"},"mark":{"type":"point","filled":true,"stroke":"black","strokeWidth":1,"size":160,"opacity":1},"encoding":{"x":{"datum":5.90e-11,"type":"quantitative","axis":null},"xOffset":{"field":"j","type":"quantitative","scale":{"domain":[0,2],"range":[0,72]}},"y":{"datum":0.2693,"type":"quantitative","axis":null},"yOffset":{"field":"i","type":"quantitative","scale":{"domain":[0,4],"range":[0,76]}},"shape":{"field":"s","type":"nominal","scale":{"domain":["η=-10","η=-5","η=0","η=5","η=10"],"range":["diamond","diamond","M-1,0H1M0,-1V1","triangle-up","triangle-up"]},"legend":null},"fill":{"field":"s","type":"nominal","scale":{"domain":["η=-10","η=-5","η=0","η=5","η=10"],"range":["black","white","transparent","white","black"]},"legend":null}}},
  {"data":{"name":"legendrows"},"mark":{"type":"text","align":"left","fontSize":12,"color":"#222"},"encoding":{"x":{"datum":9.60e-11,"type":"quantitative","axis":null},"y":{"datum":0.2693,"type":"quantitative","axis":null},"yOffset":{"field":"i","type":"quantitative","scale":{"domain":[0,4],"range":[0,76]}},"text":{"field":"s"}}},
  {"data":{"values":[{"t":"B","d":-6.8e-11,"z":0.207},{"t":"F","d":-6.8e-11,"z":0.107},{"t":"B","d":-6.6e-11,"z":0.0095}]},"mark":{"type":"text","fontSize":17},"encoding":{"x":{"field":"d","type":"quantitative","axis":null},"y":{"field":"z","type":"quantitative","axis":null},"text":{"field":"t"}}},
  {"data":{"values":[{"t":"(a)","d":-6.65e-11,"z":0.2734}]},"mark":{"type":"text","fontSize":17,"fontWeight":"bold"},"encoding":{"x":{"field":"d","type":"quantitative","axis":null},"y":{"field":"z","type":"quantitative","axis":null},"text":{"field":"t"}}},
  {"data":{"values":[{"t":"x"}]},"mark":{"type":"text","fontSize":13,"dx":12,"dy":52},"encoding":{"x":{"datum":2e-11,"type":"quantitative","axis":null},"y":{"datum":0,"type":"quantitative","axis":null},"text":{"field":"t"}}}
 ]
},
{
 "width":460,"height":440,
 "resolve":{"axis":{"x":"independent","y":"independent"}},
 "layer":[
  {"data":{"values":[{"z":0.1},{"z":0.2}]},"mark":{"type":"rule","color":"black","strokeWidth":1.2},"encoding":{"y":{"field":"z","type":"quantitative","scale":{"domain":[0,0.3],"nice":false,"zero":false},"axis":null}}},
  {"data":{"name":"c"},"mark":{"type":"line","color":"black","strokeWidth":1},"encoding":{
    "x":{"field":"d","type":"quantitative","scale":{"domain":[-8e-12,1.2e-11],"nice":false,"zero":false},"axis":{"orient":"bottom","values":[-8e-12,-6e-12,-4e-12,-2e-12,0,2e-12,4e-12,6e-12,8e-12,1e-11,1.2e-11],"labelExpr":"['-8E-012','','-4E-012','','0','','4E-012','','8E-012','','1.2E-011'][round(datum.value*1e12/2)+4]","grid":true,"gridDash":{"condition":{"test":"round(datum.value*1e12/2)%2==0","value":[14,412,14]},"value":[8,424,8]},"labelPadding":17,"title":"D","titleFontSize":20,"titlePadding":11}},
    "y":{"field":"z","type":"quantitative","scale":{"domain":[0,0.3],"nice":false,"zero":false},"axis":{"orient":"left","values":[0,0.025,0.05,0.075,0.1,0.125,0.15,0.175,0.2,0.225,0.25,0.275,0.3],"labelExpr":"round(datum.value*40)%2==0 ? format(datum.value,'.2f') : ''","grid":true,"gridDash":{"condition":{"test":"round(datum.value*40)%2==0","value":[14,432,14]},"value":[8,444,8]},"labelPadding":13,"title":"z","titleFontSize":16,"titlePadding":16}},
    "strokeDash":{"field":"s","type":"nominal","scale":{"domain":["η=-10","η=-5","η=0","η=5","η=10"],"range":[[1,0],[1,0],[7,4],[10,4,2,4],[14,5,2,5]]},"legend":null},
    "order":{"field":"k","type":"quantitative"}}},
  {"data":{"name":"c"},"transform":[{"filter":"datum.s=='η=-5'"}],"mark":{"type":"point","shape":"diamond","filled":true,"fill":"white","stroke":"black","strokeWidth":1,"size":75,"opacity":1},"encoding":{"x":{"field":"d","type":"quantitative","axis":null},"y":{"field":"z","type":"quantitative","axis":null}}},
  {"data":{"name":"c"},"transform":[{"filter":"datum.s=='η=0'"}],"mark":{"type":"point","shape":"M-1,0H1M0,-1V1","filled":false,"stroke":"black","strokeWidth":1,"size":75,"opacity":1},"encoding":{"x":{"field":"d","type":"quantitative","axis":null},"y":{"field":"z","type":"quantitative","axis":null}}},
  {"data":{"name":"c"},"transform":[{"filter":"datum.s=='η=5'"}],"mark":{"type":"point","shape":"triangle-up","filled":true,"fill":"white","stroke":"black","strokeWidth":1,"size":75,"opacity":1},"encoding":{"x":{"field":"d","type":"quantitative","axis":null},"y":{"field":"z","type":"quantitative","axis":null}}},
  {"data":{"name":"c"},"transform":[{"filter":"datum.s=='η=-10'"}],"mark":{"type":"point","shape":"diamond","filled":true,"fill":"black","stroke":"black","strokeWidth":1,"size":75,"opacity":1},"encoding":{"x":{"field":"d","type":"quantitative","axis":null},"y":{"field":"z","type":"quantitative","axis":null}}},
  {"data":{"name":"c"},"transform":[{"filter":"datum.s=='η=10'"}],"mark":{"type":"point","shape":"triangle-up","filled":true,"fill":"black","stroke":"black","strokeWidth":1,"size":75,"opacity":1},"encoding":{"x":{"field":"d","type":"quantitative","axis":null},"y":{"field":"z","type":"quantitative","axis":null}}},
  {"data":{"values":[{"part":"legend box"}]},"mark":{"type":"rect","fill":"white","stroke":"black","strokeWidth":1.5},"encoding":{"x":{"datum":4.70e-12,"type":"quantitative","axis":null},"x2":{"datum":1.087e-11},"y":{"datum":0.2857,"type":"quantitative","axis":null},"y2":{"datum":0.2161}}},
  {"data":{"name":"legendrows"},"mark":{"type":"rule","color":"black","strokeWidth":1},"encoding":{"x":{"datum":5.38e-12,"type":"quantitative","axis":null},"x2":{"datum":6.95e-12},"y":{"datum":0.2770,"type":"quantitative","axis":null},"yOffset":{"field":"i","type":"quantitative","scale":{"domain":[0,4],"range":[0,76]}},"strokeDash":{"field":"s","type":"nominal","legend":null}}},
  {"data":{"name":"legendrows"},"mark":{"type":"rule","color":"black","strokeWidth":1},"encoding":{"x":{"datum":6.95e-12,"type":"quantitative","axis":null},"x2":{"datum":8.51e-12},"y":{"datum":0.2770,"type":"quantitative","axis":null},"yOffset":{"field":"i","type":"quantitative","scale":{"domain":[0,4],"range":[0,76]}},"strokeDash":{"field":"s","type":"nominal","legend":null}}},
  {"data":{"name":"legendsym"},"mark":{"type":"point","filled":true,"stroke":"black","strokeWidth":1,"size":160,"opacity":1},"encoding":{"x":{"datum":5.38e-12,"type":"quantitative","axis":null},"xOffset":{"field":"j","type":"quantitative","scale":{"domain":[0,2],"range":[0,72]}},"y":{"datum":0.2770,"type":"quantitative","axis":null},"yOffset":{"field":"i","type":"quantitative","scale":{"domain":[0,4],"range":[0,76]}},"shape":{"field":"s","type":"nominal","scale":{"domain":["η=-10","η=-5","η=0","η=5","η=10"],"range":["diamond","diamond","M-1,0H1M0,-1V1","triangle-up","triangle-up"]},"legend":null},"fill":{"field":"s","type":"nominal","scale":{"domain":["η=-10","η=-5","η=0","η=5","η=10"],"range":["black","white","transparent","white","black"]},"legend":null}}},
  {"data":{"name":"legendrows"},"mark":{"type":"text","align":"left","fontSize":12,"color":"#222"},"encoding":{"x":{"datum":9.03e-12,"type":"quantitative","axis":null},"y":{"datum":0.2770,"type":"quantitative","axis":null},"yOffset":{"field":"i","type":"quantitative","scale":{"domain":[0,4],"range":[0,76]}},"text":{"field":"s"}}},
  {"data":{"values":[{"t":"F","d":-6.68e-12,"z":0.2084},{"t":"B","d":-6.53e-12,"z":0.1084},{"t":"F","d":-6.39e-12,"z":0.0141}]},"mark":{"type":"text","fontSize":17},"encoding":{"x":{"field":"d","type":"quantitative","axis":null},"y":{"field":"z","type":"quantitative","axis":null},"text":{"field":"t"}}},
  {"data":{"values":[{"t":"(c)","d":-6.38e-12,"z":0.2777}]},"mark":{"type":"text","fontSize":17,"fontWeight":"bold"},"encoding":{"x":{"field":"d","type":"quantitative","axis":null},"y":{"field":"z","type":"quantitative","axis":null},"text":{"field":"t"}}},
  {"data":{"values":[{"t":"x"}]},"mark":{"type":"text","fontSize":13,"dx":12,"dy":52},"encoding":{"x":{"datum":2e-12,"type":"quantitative","axis":null},"y":{"datum":0,"type":"quantitative","axis":null},"text":{"field":"t"}}}
 ]
},
{
 "width":460,"height":440,
 "resolve":{"axis":{"x":"independent","y":"independent"}},
 "layer":[
  {"data":{"values":[{"z":0.1},{"z":0.2}]},"mark":{"type":"rule","color":"black","strokeWidth":1.2},"encoding":{"y":{"field":"z","type":"quantitative","scale":{"domain":[0,0.3],"nice":false,"zero":false},"axis":null}}},
  {"data":{"name":"b"},"mark":{"type":"line","color":"black","strokeWidth":1},"encoding":{
    "x":{"field":"d","type":"quantitative","scale":{"domain":[-1.2e-11,1.2e-11],"nice":false,"zero":false},"axis":{"orient":"bottom","values":[-1.2e-11,-1e-11,-8e-12,-6e-12,-4e-12,-2e-12,0,2e-12,4e-12,6e-12,8e-12,1e-11,1.2e-11],"labelExpr":"['-1.2E-011','','-8E-012','','-4E-012','','-1.6E-027','','4E-012','','8E-012','','1.2E-011'][round(datum.value*1e12/2)+6]","grid":true,"gridDash":{"condition":{"test":"round(datum.value*1e12/2)%2==0","value":[14,412,14]},"value":[8,424,8]},"labelPadding":17,"title":"D","titleFontSize":20,"titlePadding":11}},
    "y":{"field":"z","type":"quantitative","scale":{"domain":[0,0.3],"nice":false,"zero":false},"axis":{"orient":"left","values":[0,0.025,0.05,0.075,0.1,0.125,0.15,0.175,0.2,0.225,0.25,0.275,0.3],"labelExpr":"round(datum.value*40)%2==0 ? format(datum.value,'.2f') : ''","grid":true,"gridDash":{"condition":{"test":"round(datum.value*40)%2==0","value":[14,432,14]},"value":[8,444,8]},"labelPadding":13,"title":"z","titleFontSize":16,"titlePadding":16}},
    "strokeDash":{"field":"s","type":"nominal","scale":{"domain":["η=-10","η=-5","η=0","η=5","η=10"],"range":[[1,0],[1,0],[7,4],[10,4,2,4],[14,5,2,5]]},"legend":null},
    "order":{"field":"k","type":"quantitative"}}},
  {"data":{"name":"b"},"transform":[{"filter":"datum.s=='η=-5'"}],"mark":{"type":"point","shape":"diamond","filled":true,"fill":"white","stroke":"black","strokeWidth":1,"size":75,"opacity":1},"encoding":{"x":{"field":"d","type":"quantitative","axis":null},"y":{"field":"z","type":"quantitative","axis":null}}},
  {"data":{"name":"b"},"transform":[{"filter":"datum.s=='η=0'"}],"mark":{"type":"point","shape":"M-1,0H1M0,-1V1","filled":false,"stroke":"black","strokeWidth":1,"size":75,"opacity":1},"encoding":{"x":{"field":"d","type":"quantitative","axis":null},"y":{"field":"z","type":"quantitative","axis":null}}},
  {"data":{"name":"b"},"transform":[{"filter":"datum.s=='η=5'"}],"mark":{"type":"point","shape":"triangle-up","filled":true,"fill":"white","stroke":"black","strokeWidth":1,"size":75,"opacity":1},"encoding":{"x":{"field":"d","type":"quantitative","axis":null},"y":{"field":"z","type":"quantitative","axis":null}}},
  {"data":{"name":"b"},"transform":[{"filter":"datum.s=='η=-10'"}],"mark":{"type":"point","shape":"diamond","filled":true,"fill":"black","stroke":"black","strokeWidth":1,"size":75,"opacity":1},"encoding":{"x":{"field":"d","type":"quantitative","axis":null},"y":{"field":"z","type":"quantitative","axis":null}}},
  {"data":{"name":"b"},"transform":[{"filter":"datum.s=='η=10'"}],"mark":{"type":"point","shape":"triangle-up","filled":true,"fill":"black","stroke":"black","strokeWidth":1,"size":75,"opacity":1},"encoding":{"x":{"field":"d","type":"quantitative","axis":null},"y":{"field":"z","type":"quantitative","axis":null}}},
  {"data":{"values":[{"part":"legend box"}]},"mark":{"type":"rect","fill":"white","stroke":"black","strokeWidth":1.5},"encoding":{"x":{"datum":3.49e-12,"type":"quantitative","axis":null},"x2":{"datum":1.090e-11},"y":{"datum":0.1850,"type":"quantitative","axis":null},"y2":{"datum":0.1156}}},
  {"data":{"name":"legendrows"},"mark":{"type":"rule","color":"black","strokeWidth":1},"encoding":{"x":{"datum":4.28e-12,"type":"quantitative","axis":null},"x2":{"datum":6.16e-12},"y":{"datum":0.1762,"type":"quantitative","axis":null},"yOffset":{"field":"i","type":"quantitative","scale":{"domain":[0,4],"range":[0,76]}},"strokeDash":{"field":"s","type":"nominal","legend":null}}},
  {"data":{"name":"legendrows"},"mark":{"type":"rule","color":"black","strokeWidth":1},"encoding":{"x":{"datum":6.16e-12,"type":"quantitative","axis":null},"x2":{"datum":8.04e-12},"y":{"datum":0.1762,"type":"quantitative","axis":null},"yOffset":{"field":"i","type":"quantitative","scale":{"domain":[0,4],"range":[0,76]}},"strokeDash":{"field":"s","type":"nominal","legend":null}}},
  {"data":{"name":"legendsym"},"mark":{"type":"point","filled":true,"stroke":"black","strokeWidth":1,"size":160,"opacity":1},"encoding":{"x":{"datum":4.28e-12,"type":"quantitative","axis":null},"xOffset":{"field":"j","type":"quantitative","scale":{"domain":[0,2],"range":[0,72]}},"y":{"datum":0.1762,"type":"quantitative","axis":null},"yOffset":{"field":"i","type":"quantitative","scale":{"domain":[0,4],"range":[0,76]}},"shape":{"field":"s","type":"nominal","scale":{"domain":["η=-10","η=-5","η=0","η=5","η=10"],"range":["diamond","diamond","M-1,0H1M0,-1V1","triangle-up","triangle-up"]},"legend":null},"fill":{"field":"s","type":"nominal","scale":{"domain":["η=-10","η=-5","η=0","η=5","η=10"],"range":["black","white","transparent","white","black"]},"legend":null}}},
  {"data":{"name":"legendrows"},"mark":{"type":"text","align":"left","fontSize":12,"color":"#222"},"encoding":{"x":{"datum":8.88e-12,"type":"quantitative","axis":null},"y":{"datum":0.1762,"type":"quantitative","axis":null},"yOffset":{"field":"i","type":"quantitative","scale":{"domain":[0,4],"range":[0,76]}},"text":{"field":"s"}}},
  {"data":{"values":[{"t":"B","d":-10.19e-12,"z":0.2086},{"t":"F","d":-10.33e-12,"z":0.1066},{"t":"B","d":-10.33e-12,"z":0.0159}]},"mark":{"type":"text","fontSize":17},"encoding":{"x":{"field":"d","type":"quantitative","axis":null},"y":{"field":"z","type":"quantitative","axis":null},"text":{"field":"t"}}},
  {"data":{"values":[{"t":"(b)","d":-10.33e-12,"z":0.2755}]},"mark":{"type":"text","fontSize":17,"fontWeight":"bold"},"encoding":{"x":{"field":"d","type":"quantitative","axis":null},"y":{"field":"z","type":"quantitative","axis":null},"text":{"field":"t"}}},
  {"data":{"values":[{"t":"z"}]},"mark":{"type":"text","fontSize":13,"dx":12,"dy":52},"encoding":{"x":{"datum":0,"type":"quantitative","axis":null},"y":{"datum":0,"type":"quantitative","axis":null},"text":{"field":"t"}}}
 ]
},
{
 "width":460,"height":440,
 "resolve":{"axis":{"x":"independent","y":"independent"}},
 "layer":[
  {"data":{"values":[{"z":0.1},{"z":0.2}]},"mark":{"type":"rule","color":"black","strokeWidth":1.2},"encoding":{"y":{"field":"z","type":"quantitative","scale":{"domain":[0,0.3],"nice":false,"zero":false},"axis":null}}},
  {"data":{"name":"d"},"mark":{"type":"line","color":"black","strokeWidth":1},"encoding":{
    "x":{"field":"d","type":"quantitative","scale":{"domain":[-8e-13,1.2e-12],"nice":false,"zero":false},"axis":{"orient":"bottom","values":[-8e-13,-6e-13,-4e-13,-2e-13,0,2e-13,4e-13,6e-13,8e-13,1e-12,1.2e-12],"labelExpr":"['-8E-013','','-4E-013','','0','','4E-013','','8E-013','','1.2E-012'][round(datum.value*1e13/2)+4]","grid":true,"gridDash":{"condition":{"test":"round(datum.value*1e13/2)%2==0","value":[14,412,14]},"value":[8,424,8]},"labelPadding":17,"title":"D","titleFontSize":20,"titlePadding":11}},
    "y":{"field":"z","type":"quantitative","scale":{"domain":[0,0.3],"nice":false,"zero":false},"axis":{"orient":"left","values":[0,0.025,0.05,0.075,0.1,0.125,0.15,0.175,0.2,0.225,0.25,0.275,0.3],"labelExpr":"round(datum.value*40)%2==0 ? format(datum.value,'.2f') : ''","grid":true,"gridDash":{"condition":{"test":"round(datum.value*40)%2==0","value":[14,432,14]},"value":[8,444,8]},"labelPadding":13,"title":"z","titleFontSize":16,"titlePadding":16}},
    "strokeDash":{"field":"s","type":"nominal","scale":{"domain":["η=-10","η=-5","η=0","η=5","η=10"],"range":[[1,0],[1,0],[7,4],[10,4,2,4],[14,5,2,5]]},"legend":null},
    "order":{"field":"k","type":"quantitative"}}},
  {"data":{"name":"d"},"transform":[{"filter":"datum.s=='η=-5'"}],"mark":{"type":"point","shape":"diamond","filled":true,"fill":"white","stroke":"black","strokeWidth":1,"size":75,"opacity":1},"encoding":{"x":{"field":"d","type":"quantitative","axis":null},"y":{"field":"z","type":"quantitative","axis":null}}},
  {"data":{"name":"d"},"transform":[{"filter":"datum.s=='η=0'"}],"mark":{"type":"point","shape":"M-1,0H1M0,-1V1","filled":false,"stroke":"black","strokeWidth":1,"size":75,"opacity":1},"encoding":{"x":{"field":"d","type":"quantitative","axis":null},"y":{"field":"z","type":"quantitative","axis":null}}},
  {"data":{"name":"d"},"transform":[{"filter":"datum.s=='η=5'"}],"mark":{"type":"point","shape":"triangle-up","filled":true,"fill":"white","stroke":"black","strokeWidth":1,"size":75,"opacity":1},"encoding":{"x":{"field":"d","type":"quantitative","axis":null},"y":{"field":"z","type":"quantitative","axis":null}}},
  {"data":{"name":"d"},"transform":[{"filter":"datum.s=='η=-10'"}],"mark":{"type":"point","shape":"diamond","filled":true,"fill":"black","stroke":"black","strokeWidth":1,"size":75,"opacity":1},"encoding":{"x":{"field":"d","type":"quantitative","axis":null},"y":{"field":"z","type":"quantitative","axis":null}}},
  {"data":{"name":"d"},"transform":[{"filter":"datum.s=='η=10'"}],"mark":{"type":"point","shape":"triangle-up","filled":true,"fill":"black","stroke":"black","strokeWidth":1,"size":75,"opacity":1},"encoding":{"x":{"field":"d","type":"quantitative","axis":null},"y":{"field":"z","type":"quantitative","axis":null}}},
  {"data":{"values":[{"part":"legend box"}]},"mark":{"type":"rect","fill":"white","stroke":"black","strokeWidth":1.5},"encoding":{"x":{"datum":-7.52e-13,"type":"quantitative","axis":null},"x2":{"datum":-1.30e-13},"y":{"datum":0.1918,"type":"quantitative","axis":null},"y2":{"datum":0.1224}}},
  {"data":{"name":"legendrows"},"mark":{"type":"rule","color":"black","strokeWidth":1},"encoding":{"x":{"datum":-6.93e-13,"type":"quantitative","axis":null},"x2":{"datum":-5.37e-13},"y":{"datum":0.1821,"type":"quantitative","axis":null},"yOffset":{"field":"i","type":"quantitative","scale":{"domain":[0,4],"range":[0,76]}},"strokeDash":{"field":"s","type":"nominal","legend":null}}},
  {"data":{"name":"legendrows"},"mark":{"type":"rule","color":"black","strokeWidth":1},"encoding":{"x":{"datum":-5.37e-13,"type":"quantitative","axis":null},"x2":{"datum":-3.80e-13},"y":{"datum":0.1821,"type":"quantitative","axis":null},"yOffset":{"field":"i","type":"quantitative","scale":{"domain":[0,4],"range":[0,76]}},"strokeDash":{"field":"s","type":"nominal","legend":null}}},
  {"data":{"name":"legendsym"},"mark":{"type":"point","filled":true,"stroke":"black","strokeWidth":1,"size":160,"opacity":1},"encoding":{"x":{"datum":-6.93e-13,"type":"quantitative","axis":null},"xOffset":{"field":"j","type":"quantitative","scale":{"domain":[0,2],"range":[0,72]}},"y":{"datum":0.1821,"type":"quantitative","axis":null},"yOffset":{"field":"i","type":"quantitative","scale":{"domain":[0,4],"range":[0,76]}},"shape":{"field":"s","type":"nominal","scale":{"domain":["η=-10","η=-5","η=0","η=5","η=10"],"range":["diamond","diamond","M-1,0H1M0,-1V1","triangle-up","triangle-up"]},"legend":null},"fill":{"field":"s","type":"nominal","scale":{"domain":["η=-10","η=-5","η=0","η=5","η=10"],"range":["black","white","transparent","white","black"]},"legend":null}}},
  {"data":{"name":"legendrows"},"mark":{"type":"text","align":"left","fontSize":12,"color":"#222"},"encoding":{"x":{"datum":-3.12e-13,"type":"quantitative","axis":null},"y":{"datum":0.1821,"type":"quantitative","axis":null},"yOffset":{"field":"i","type":"quantitative","scale":{"domain":[0,4],"range":[0,76]}},"text":{"field":"s"}}},
  {"data":{"values":[{"t":"F","d":10.12e-13,"z":0.2125},{"t":"B","d":10.51e-13,"z":0.110},{"t":"F","d":10.14e-13,"z":0.0159}]},"mark":{"type":"text","fontSize":17},"encoding":{"x":{"field":"d","type":"quantitative","axis":null},"y":{"field":"z","type":"quantitative","axis":null},"text":{"field":"t"}}},
  {"data":{"values":[{"t":"(d)","d":-6.40e-13,"z":0.2778}]},"mark":{"type":"text","fontSize":17,"fontWeight":"bold"},"encoding":{"x":{"field":"d","type":"quantitative","axis":null},"y":{"field":"z","type":"quantitative","axis":null},"text":{"field":"t"}}},
  {"data":{"values":[{"t":"z"}]},"mark":{"type":"text","fontSize":13,"dx":12,"dy":52},"encoding":{"x":{"datum":2e-13,"type":"quantitative","axis":null},"y":{"datum":0,"type":"quantitative","axis":null},"text":{"field":"t"}}}
 ]
}
]
}
